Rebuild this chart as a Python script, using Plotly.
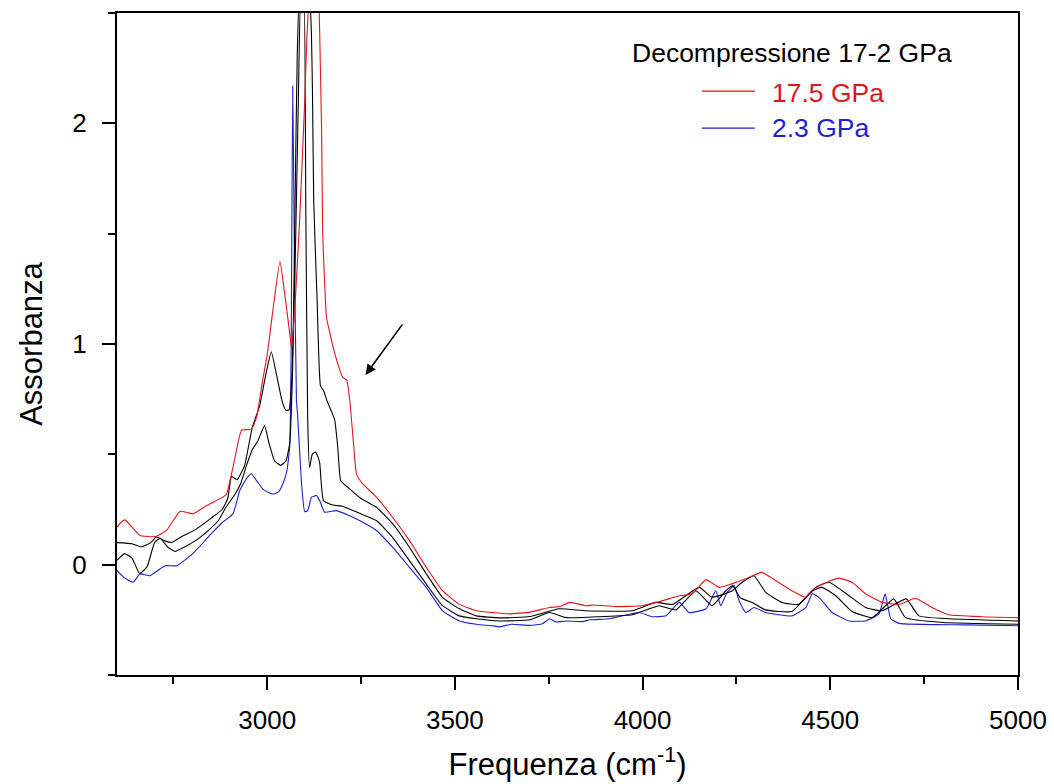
import plotly.graph_objects as go

# ---- data (x: cm^-1, y: absorbance) ----
red_x = [2600, 2610, 2621, 2640, 2661, 2701, 2732, 2768, 2790, 2802, 2839, 2882, 2892, 2910, 2932, 2958,
         2972, 2988, 3000, 3015, 3034, 3045, 3060, 3065, 3075, 3087, 3100, 3106, 3113, 3120, 3128, 3135,
         3140, 3145, 3148, 3158, 3167, 3175, 3190, 3201, 3212, 3220, 3230, 3238, 3254, 3291, 3334, 3379,
         3424, 3467, 3512, 3557, 3600, 3645, 3700, 3752, 3780, 3805, 3849, 3870, 3929, 3999, 4052, 4098,
         4132, 4169, 4204, 4239, 4275, 4318, 4355, 4398, 4435, 4470, 4523, 4558, 4594, 4638, 4683, 4727,
         4771, 4816, 4904, 5000]
red_y = [0.17, 0.19, 0.203, 0.17, 0.132, 0.127, 0.155, 0.242, 0.235, 0.23, 0.268, 0.306, 0.32, 0.45, 0.61, 0.613,
         0.67, 0.836, 0.95, 1.15, 1.374, 1.25, 1.05, 0.98, 1.2, 1.58, 2.1, 2.4, 2.6, 2.7, 2.6, 2.7,
         2.4, 1.96, 1.5, 1.12, 1.05, 0.99, 0.9, 0.85, 0.836, 0.745, 0.55, 0.41, 0.367, 0.306, 0.215, 0.109,
         -0.012, -0.118, -0.18, -0.209, -0.217, -0.223, -0.215, -0.194, -0.19, -0.171, -0.186, -0.183, -0.19, -0.186, -0.164, -0.141,
         -0.132, -0.068, -0.103, -0.086, -0.064, -0.035, -0.073, -0.118, -0.148, -0.095, -0.061, -0.08, -0.132, -0.171, -0.18, -0.152,
         -0.194, -0.227, -0.236, -0.24]

blk1_x = [2600, 2640, 2665, 2690, 2705, 2725, 2745, 2775, 2810, 2850, 2880, 2895, 2905, 2920, 2940, 2960,
          2980, 2995, 3011, 3025, 3040, 3050, 3058, 3066, 3075, 3083, 3090, 3098, 3105, 3112, 3118, 3121,
          3124, 3133, 3142, 3150, 3160, 3170, 3180, 3188, 3196, 3215, 3250, 3291, 3334, 3379, 3424, 3467,
          3512, 3557, 3619, 3700, 3778, 3849, 3972, 4035, 4080, 4151, 4185, 4239, 4265, 4297, 4328, 4371,
          4416, 4461, 4497, 4550, 4594, 4638, 4702, 4736, 4816, 5000]
blk1_y = [0.10, 0.095, 0.08, 0.10, 0.125, 0.11, 0.10, 0.13, 0.16, 0.21, 0.25, 0.30, 0.40, 0.385, 0.45, 0.62,
          0.72, 0.85, 0.965, 0.86, 0.74, 0.70, 0.70, 0.85, 1.4, 2.1, 2.6, 2.55, 2.65, 2.6, 2.4, 2.1,
          1.65, 1.2, 0.81, 0.79, 0.74, 0.70, 0.655, 0.533, 0.38, 0.35, 0.30, 0.26, 0.186, 0.079, -0.042, -0.148,
          -0.2, -0.232, -0.241, -0.235, -0.2, -0.209, -0.209, -0.171, -0.18, -0.103, -0.148, -0.118, -0.08, -0.05, -0.126, -0.171,
          -0.18, -0.103, -0.08, -0.141, -0.194, -0.209, -0.155, -0.232, -0.245, -0.255]

blk2_x = [2600, 2620, 2640, 2660, 2680, 2700, 2715, 2735, 2755, 2780, 2810, 2840, 2870, 2890, 2915, 2930,
          2945, 2960, 2975, 2993, 3005, 3020, 3036, 3050, 3060, 3068, 3074, 3080, 3086, 3092, 3098, 3103,
          3108, 3113, 3120, 3128, 3135, 3140, 3150, 3175, 3200, 3250, 3291, 3334, 3379, 3424, 3467, 3512,
          3557, 3619, 3700, 3752, 3796, 3900, 3972, 4018, 4044, 4089, 4142, 4185, 4222, 4240, 4260, 4292,
          4328, 4398, 4452, 4478, 4514, 4558, 4612, 4669, 4700, 4800, 5000]
blk2_y = [0.02, 0.05, 0.03, -0.04, -0.01, 0.10, 0.12, 0.08, 0.06, 0.08, 0.11, 0.15, 0.20, 0.26, 0.32, 0.37,
          0.45, 0.52, 0.56, 0.63, 0.55, 0.47, 0.45, 0.47, 0.55, 0.9, 1.6, 2.3, 2.6, 2.55, 2.6, 1.6,
          0.655, 0.44, 0.50, 0.51, 0.49, 0.46, 0.29, 0.27, 0.265, 0.23, 0.20, 0.124, 0.018, -0.088, -0.186, -0.232,
          -0.245, -0.255, -0.25, -0.217, -0.24, -0.235, -0.227, -0.2, -0.186, -0.205, -0.118, -0.186, -0.118, -0.095, -0.15, -0.171,
          -0.205, -0.212, -0.118, -0.103, -0.14, -0.212, -0.24, -0.155, -0.24, -0.262, -0.27]

blue_x = [2600, 2620, 2643, 2661, 2688, 2728, 2759, 2802, 2839, 2855, 2880, 2909, 2927, 2945, 2958, 2972,
          2990, 3015, 3030, 3042, 3052, 3060, 3064, 3068, 3072, 3078, 3081, 3091, 3100, 3108, 3118, 3125,
          3131, 3140, 3153, 3184, 3215, 3246, 3291, 3334, 3379, 3424, 3467, 3512, 3557, 3600, 3619, 3650,
          3700, 3733, 3752, 3770, 3796, 3840, 3860, 3911, 3991, 4026, 4062, 4098, 4124, 4169, 4195, 4208,
          4225, 4244, 4257, 4275, 4297, 4328, 4398, 4435, 4452, 4470, 4505, 4550, 4594, 4630, 4646, 4661,
          4683, 4860, 5000]
blue_y = [-0.027, -0.06, -0.08, -0.042, -0.05, -0.005, -0.005, 0.05, 0.118, 0.147, 0.19, 0.23, 0.336, 0.39, 0.412, 0.38,
          0.34, 0.32, 0.33, 0.367, 0.42, 0.533, 1.0, 2.17, 1.5, 0.745, 0.68, 0.38, 0.24, 0.245, 0.306, 0.31,
          0.314, 0.29, 0.238, 0.245, 0.225, 0.2, 0.155, 0.079, -0.012, -0.103, -0.209, -0.255, -0.27, -0.277, -0.282, -0.27,
          -0.275, -0.268, -0.245, -0.26, -0.255, -0.258, -0.25, -0.245, -0.217, -0.236, -0.232, -0.171, -0.217, -0.2, -0.118, -0.186,
          -0.126, -0.095, -0.164, -0.217, -0.194, -0.217, -0.232, -0.194, -0.132, -0.148, -0.217, -0.255, -0.255, -0.223, -0.132, -0.245,
          -0.266, -0.273, -0.277]

legend_title = "Decompressione 17-2 GPa"
red_label = "17.5 GPa"
blue_label = "2.3 GPa"

RED = "#e0161c"
BLUE = "#1f1fd0"
FONT = "Liberation Sans, Arial, sans-serif"

fig = go.Figure()
for xs, ys, col in [(blue_x, blue_y, BLUE), (blk2_x, blk2_y, "black"),
                    (blk1_x, blk1_y, "black"), (red_x, red_y, RED)]:
    fig.add_trace(go.Scatter(x=xs, y=ys, mode="lines",
                             line=dict(color=col, width=1.1, shape="spline", smoothing=0.4),
                             showlegend=False, hoverinfo="skip"))

axis_common = dict(showline=True, linecolor="black", linewidth=2, mirror=True,
                   ticks="outside", tickcolor="black", tickwidth=2, ticklen=13,
                   showgrid=False, zeroline=False, automargin=False,
                   tickfont=dict(family=FONT, size=26, color="black"))

fig.update_xaxes(range=[2600, 5000], tick0=3000, dtick=500,
                 minor=dict(ticks="outside", ticklen=7, tickwidth=2, tickcolor="black", dtick=250),
                 title=dict(text="Frequenza (cm<sup>-1</sup>)", font=dict(family=FONT, size=31, color="black"),
                            standoff=19),
                 ticklabelstandoff=8, **axis_common)
fig.update_yaxes(range=[-0.5, 2.5], tick0=0, dtick=1,
                 minor=dict(ticks="outside", ticklen=7, tickwidth=2, tickcolor="black", dtick=0.5),
                 title=dict(text="Assorbanza", font=dict(family=FONT, size=31, color="black"),
                            standoff=20),
                 ticklabelstandoff=10, **axis_common)

# legend drawn as text + short line segments
fig.add_annotation(xref="paper", yref="paper", x=0.749, y=0.9396, text=legend_title, showarrow=False,
                   font=dict(family=FONT, size=26.5, color="black"), xanchor="center", yanchor="middle")
fig.add_annotation(xref="paper", yref="paper", x=0.7247, y=0.879, text=red_label, showarrow=False,
                   font=dict(family=FONT, size=26.5, color=RED), xanchor="left", yanchor="middle")
fig.add_annotation(xref="paper", yref="paper", x=0.7247, y=0.826, text=blue_label, showarrow=False,
                   font=dict(family=FONT, size=26.5, color=BLUE), xanchor="left", yanchor="middle")
fig.add_shape(type="line", xref="paper", yref="paper", x0=0.649, x1=0.708, y0=0.882, y1=0.882,
              line=dict(color=RED, width=1.3))
fig.add_shape(type="line", xref="paper", yref="paper", x0=0.649, x1=0.708, y0=0.826, y1=0.826,
              line=dict(color=BLUE, width=1.3))

# arrow pointing at the shoulder
fig.add_annotation(x=3262, y=0.86, ax=38, ay=-52, text="", showarrow=True,
                   arrowhead=2, arrowsize=1.3, arrowwidth=1.6, arrowcolor="black")

fig.update_layout(width=1054, height=784, margin=dict(l=117, r=36, t=13, b=109),
                  paper_bgcolor="white", plot_bgcolor="white",
                  font=dict(family=FONT, color="black"))

fig.write_html("out.html")
